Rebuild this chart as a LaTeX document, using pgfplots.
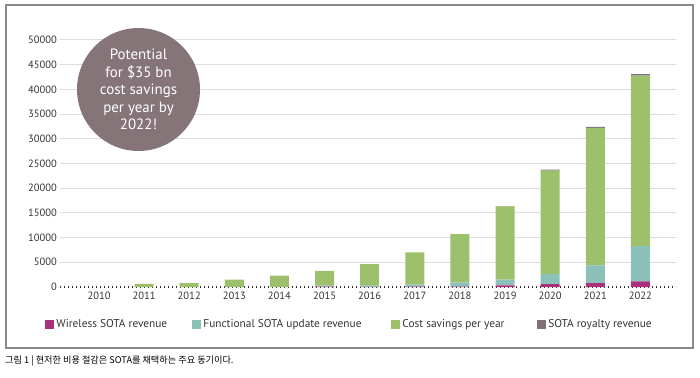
\documentclass[border=0pt]{standalone}
\usepackage{pgfplots}
\pgfplotsset{compat=1.18}
\usepackage{fontspec}
\setmainfont{PT Sans}
\newfontfamily\cjk{Noto Sans CJK KR}
\definecolor{cWire}{HTML}{A9307A}
\definecolor{cFunc}{HTML}{8CC1B9}
\definecolor{cCost}{HTML}{9CC06B}
\definecolor{cRoy}{HTML}{7F7176}
\definecolor{cCirc}{HTML}{857579}
\definecolor{cGrid}{HTML}{DDDDDD}
\definecolor{cFrame}{HTML}{8A8A8A}
\definecolor{cTxt}{HTML}{333333}
\pgfplotsset{sqleg/.style={legend image code/.code={\fill[##1,draw=none] (0bp,-4.5bp) rectangle (9bp,4.5bp);}}}
\begin{document}
\begin{tikzpicture}[x=1bp,y=1bp]
\useasboundingbox (0,0) rectangle (700,377);
\draw[cFrame, line width=1.2bp] (6,29) rectangle (693,372);
\begin{axis}[
  at={(60bp,90bp)}, anchor=south west,
  scale only axis, width=616bp, height=247bp,
  xmin=-0.865, xmax=12.79, ymin=0, ymax=50000,
  ybar stacked, bar width=19bp,
  axis line style={draw=none},
  major tick length=0pt,
  xtick={0,...,12},
  xticklabels={2010,2011,2012,2013,2014,2015,2016,2017,2018,2019,2020,2021,2022},
  ytick={5000,10000,...,50000},
  extra y ticks={0},
  extra y tick style={grid=none},
  ymajorgrids, grid style={cGrid, line width=1bp},
  scaled y ticks=false,
  /pgf/number format/assume math mode=true,
  yticklabel={\pgfmathprintnumber[fixed,1000 sep={}]{\tick}},
  tick label style={font=\fontsize{10.6}{12}\selectfont, text=cTxt},
  xticklabel style={yshift=-1.5bp},
  yticklabel style={xshift=0.5bp},
  legend columns=4,
  legend style={at={(axis description cs:-0.024,-0.15)}, anchor=west, draw=none, fill=none,
    inner sep=0pt, font=\fontsize{11.4}{13}\selectfont, text=cTxt,
    nodes={inner sep=2bp}},
  legend cell align=left,
]
\addplot[fill=cWire, draw=none, sqleg] coordinates {(0,0) (1,0) (2,0) (3,0) (4,0) (5,80) (6,50) (7,80) (8,100) (9,350) (10,600) (11,800) (12,1150)};
\addlegendentry{\makebox[134bp][l]{Wireless SOTA revenue}}
\addplot[fill=cFunc, draw=none, sqleg] coordinates {(0,0) (1,0) (2,0) (3,0) (4,0) (5,220) (6,250) (7,400) (8,850) (9,1150) (10,2000) (11,3600) (12,7150)};
\addlegendentry{\makebox[186bp][l]{Functional SOTA update revenue}}
\addplot[fill=cCost, draw=none, sqleg] coordinates {(0,0) (1,650) (2,800) (3,1500) (4,2300) (5,2950) (6,4350) (7,6550) (8,9750) (9,14800) (10,20950) (11,27800) (12,34500)};
\addlegendentry{\makebox[133bp][l]{Cost savings per year}}
\addplot[fill=cRoy, draw=none, sqleg] coordinates {(0,0) (1,0) (2,0) (3,0) (4,0) (5,0) (6,0) (7,0) (8,0) (9,50) (10,200) (11,200) (12,300)};
\addlegendentry{SOTA royalty revenue}
\draw[cTxt, line width=1.1bp, dash pattern=on 1bp off 3bp] (rel axis cs:0,0) -- (rel axis cs:1,0);
\end{axis}
\node[circle, fill=cCirc, minimum size=123bp, inner sep=0pt, text=white, align=center,
  font=\fontsize{15}{17.5}\selectfont] at (138.5,287.5) {Potential\\for \$35 bn\\cost savings\\per year by\\2022!};
\node[anchor=west, inner sep=0pt, font=\cjk\fontsize{9.2}{11}\selectfont, text=black] at (5,16) {그림 1 | 현저한 비용 절감은 SOTA를 채택하는 주요 동기이다.};
\end{tikzpicture}
\end{document}
